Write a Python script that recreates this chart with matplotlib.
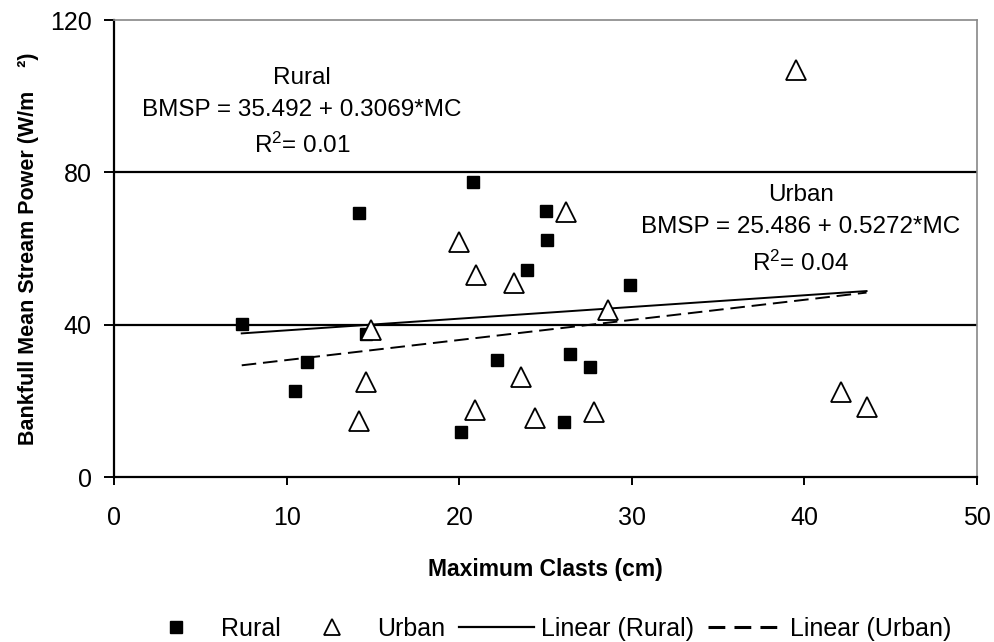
import matplotlib
matplotlib.use("Agg")
import matplotlib.pyplot as plt
from matplotlib.lines import Line2D
import numpy as np

plt.rcParams['font.family'] = ['Liberation Sans', 'DejaVu Sans']
plt.rcParams['mathtext.fontset'] = 'custom'
plt.rcParams['mathtext.rm'] = 'Liberation Sans'
plt.rcParams['mathtext.it'] = 'Liberation Sans:italic'
plt.rcParams['mathtext.bf'] = 'Liberation Sans:bold'

# Data
rural_x = [7.4, 14.2, 20.8, 25.0, 25.1, 23.9, 14.6, 11.2, 10.5, 22.2, 20.1, 29.9, 26.4, 27.6, 26.1]
rural_y = [40.3, 69.3, 77.4, 69.8, 62.4, 54.3, 37.7, 30.2, 22.7, 30.7, 11.9, 50.5, 32.3, 29.0, 14.5]
urban_x = [20.0, 21.0, 23.2, 14.9, 14.6, 14.2, 20.9, 23.6, 24.4, 26.2, 28.6, 27.8, 42.1, 43.6, 39.5]
urban_y = [61.8, 53.1, 50.9, 38.6, 25.1, 14.8, 17.7, 26.2, 15.5, 69.7, 43.9, 17.1, 22.5, 18.5, 106.8]

rural_fit = (35.492, 0.3069)
urban_fit = (25.486, 0.5272)

x_ticks = [0, 10, 20, 30, 40, 50]
y_ticks = [0, 40, 80, 120]

fig = plt.figure(figsize=(9.95, 6.42), dpi=100)
ax = fig.add_axes([114/995, 1-477.3/642, (977-114)/995, (477.3-20)/642])

ax.set_xlim(0, 50)
ax.set_ylim(0, 120)
ax.set_xticks(x_ticks)
ax.set_yticks(y_ticks)

# gridlines at 40 and 80
for gy in y_ticks[1:-1]:
    ax.axhline(gy, color='black', lw=1.6, zorder=1)

all_x = rural_x + urban_x
xr = np.array([min(all_x), max(all_x)])

dash = (0, (7.5, 3.5))
ax.plot(xr, rural_fit[0] + rural_fit[1]*xr, color='black', lw=1.4, zorder=2)
ax.plot(xr, urban_fit[0] + urban_fit[1]*xr, color='black', lw=1.4, ls=dash, zorder=2)

ax.plot(rural_x, rural_y, ls='none', marker='s', ms=8, mfc='black', mec='black', zorder=3)
ax.plot(urban_x, urban_y, ls='none', marker='^', ms=15, mfc='white', mec='black', mew=1.3, zorder=4)

for side in ['top', 'right']:
    ax.spines[side].set_color('#888888')
    ax.spines[side].set_linewidth(1.2)
for side in ['left', 'bottom']:
    ax.spines[side].set_color('black')
    ax.spines[side].set_linewidth(1.6)

ax.tick_params(axis='y', direction='out', length=7, width=1.4, labelsize=18, pad=9)
ax.tick_params(axis='x', direction='out', length=6, width=1.4, labelsize=18, pad=15)

fs = 17.5
ax.text(10.9, 104.8, 'Rural', ha='center', va='center', fontsize=fs)
ax.text(10.9, 96.3, 'BMSP = 35.492 + 0.3069*MC', ha='center', va='center', fontsize=fs)
ax.text(10.9, 87.0, 'R$^{2}$= 0.01', ha='center', va='center', fontsize=fs)

ax.text(39.8, 74.2, 'Urban', ha='center', va='center', fontsize=fs)
ax.text(39.8, 65.7, 'BMSP = 25.486 + 0.5272*MC', ha='center', va='center', fontsize=fs)
ax.text(39.8, 56.1, 'R$^{2}$= 0.04', ha='center', va='center', fontsize=fs)

ax.set_xlabel('Maximum Clasts (cm)', fontsize=16.5, fontweight='bold', labelpad=20)
ax.set_ylabel('Bankfull Mean Stream Power (W/m    ²)', fontsize=15.5, fontweight='bold', labelpad=8)

handles = [
    Line2D([], [], ls='none', marker='s', ms=8, mfc='black', mec='black'),
    Line2D([], [], ls='none', marker='^', ms=12, mfc='white', mec='black', mew=1.3),
    Line2D([], [], color='black', lw=1.6),
    Line2D([], [], color='black', lw=2.2, ls=(0, (5.5, 3))),
]
labels = ['Rural', 'Urban', 'Linear (Rural)', 'Linear (Urban)']
fig.legend(handles, labels, loc='center', bbox_to_anchor=(545/995, 1-629/642), ncol=4,
           frameon=False, fontsize=18, handlelength=3.0, handletextpad=0.3, columnspacing=0.55,
           borderpad=0.1)

fig.savefig('out.png', dpi=100)
